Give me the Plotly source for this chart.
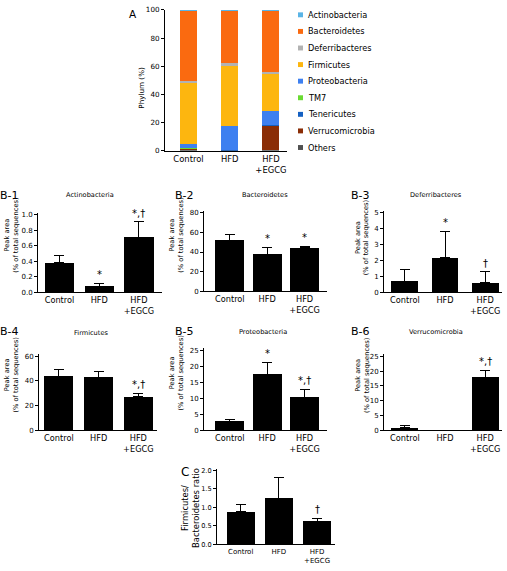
import plotly.graph_objects as go

W, H = 507, 571
FONT = "DejaVu Sans"

# ---------------- data ----------------
groups = ["Control", "HFD", "HFD<br>+EGCG"]

# Panel A: relative abundance (%), stacked bottom -> top
phyla_stack = ["Others", "Verrucomicrobia", "Tenericutes", "TM7", "Proteobacteria",
               "Firmicutes", "Deferribacteres", "Bacteroidetes", "Actinobacteria"]
others_pct = [0.6, 0.1, 0.2]
verruco_pct = [0.9, 0.0, 18.0]
teneri_pct = [0.1, 0.1, 0.1]
tm7_pct = [0.1, 0.0, 0.0]
proteo_pct = [2.9, 17.5, 10.0]
firmi_pct = [44.0, 42.3, 26.8]
deferri_pct = [0.7, 2.1, 0.6]
bactero_pct = [50.3, 37.8, 43.6]
actino_pct = [0.4, 0.1, 0.7]
legend_order = ["Actinobacteria", "Bacteroidetes", "Deferribacteres", "Firmicutes",
                "Proteobacteria", "TM7", "Tenericutes", "Verrucomicrobia", "Others"]

# Panels B and C: mean, SD (upper) and significance marks
actino_mean = [0.38, 0.08, 0.71]
actino_sd = [0.10, 0.04, 0.20]
actino_sig = ["", "*", "*,†"]

bactero_mean = [52.0, 38.0, 44.2]
bactero_sd = [6.0, 7.0, 1.5]
bactero_sig = ["", "*", "*"]

deferri_mean = [0.70, 2.17, 0.60]
deferri_sd = [0.72, 1.67, 0.68]
deferri_sig = ["", "*", "†"]

firmi_mean = [44.0, 43.0, 27.0]
firmi_sd = [5.5, 4.5, 3.0]
firmi_sig = ["", "", "*,†"]

proteo_mean = [2.8, 17.5, 10.4]
proteo_sd = [0.7, 3.8, 2.5]
proteo_sig = ["", "*", "*,†"]

verruco_mean = [0.9, 0.0, 18.0]
verruco_sd = [0.6, 0.0, 2.3]
verruco_sig = ["", "", "*,†"]

fb_ratio_mean = [0.88, 1.25, 0.62]
fb_ratio_sd = [0.20, 0.56, 0.09]
fb_ratio_sig = ["", "", "†"]

# ---------------- styles ----------------
phylum_colors = {
    "Actinobacteria": "#5AB4E6",
    "Bacteroidetes": "#FA6A10",
    "Deferribacteres": "#B2B2B2",
    "Firmicutes": "#FDB60F",
    "Proteobacteria": "#3E80F0",
    "TM7": "#6ADB32",
    "Tenericutes": "#1460C2",
    "Verrucomicrobia": "#8A2D06",
    "Others": "#505050",
}
stack_values = {
    "Others": others_pct, "Verrucomicrobia": verruco_pct, "Tenericutes": teneri_pct,
    "TM7": tm7_pct, "Proteobacteria": proteo_pct, "Firmicutes": firmi_pct,
    "Deferribacteres": deferri_pct, "Bacteroidetes": bactero_pct, "Actinobacteria": actino_pct,
}


def px(x):
    return x / W


def py(y):
    return 1 - y / H


fig = go.Figure()
annotations = []
shapes = []


def axis_common():
    return dict(showline=True, linecolor="black", linewidth=1, showgrid=False,
                zeroline=False, color="black", fixedrange=True)


# ---------------- Panel A ----------------
for ph in phyla_stack:
    fig.add_trace(go.Bar(x=[0, 1, 2], y=stack_values[ph], name=ph,
                         marker=dict(color=phylum_colors[ph], line=dict(width=0)),
                         width=0.41, xaxis="x", yaxis="y", showlegend=False))

layout = dict(
    width=W, height=H, margin=dict(l=0, r=0, t=0, b=0),
    paper_bgcolor="white", plot_bgcolor="white", barmode="stack",
    font=dict(family=FONT, color="black"), showlegend=False,
)
layout["xaxis"] = dict(axis_common(), domain=[px(165), px(287)], range=[-0.57, 2.39],
                       tickmode="array", tickvals=[0, 1, 2], ticktext=groups,
                       ticks="", tickfont=dict(size=8.4), anchor="y")
layout["yaxis"] = dict(axis_common(), domain=[py(149), py(6)], range=[0, 100],
                       dtick=20, ticks="outside", ticklen=3, tickwidth=1, tickcolor="black",
                       tickfont=dict(size=7.2), anchor="x")
annotations.append(dict(text="Phylum (%)", x=px(142), y=py(85), xref="paper", yref="paper",
                        textangle=-90, showarrow=False, font=dict(size=7.2),
                        xanchor="center", yanchor="middle"))
annotations.append(dict(text="A", x=px(133), y=py(10), xref="paper", yref="paper",
                        showarrow=False, font=dict(size=10.5), xanchor="center", yanchor="middle"))
for i, ph in enumerate(legend_order):
    yc = 11 + i * 16.85
    shapes.append(dict(type="rect", xref="paper", yref="paper",
                       x0=px(298), x1=px(303), y0=py(yc + 2.5), y1=py(yc - 2.5),
                       fillcolor=phylum_colors[ph], line=dict(width=0)))
    annotations.append(dict(text=ph, x=px(306), y=py(yc), xref="paper", yref="paper",
                            showarrow=False, font=dict(size=8.2), xanchor="left", yanchor="middle"))

# ---------------- Panels B / C ----------------
panels = [
    dict(label="B-1", title="Actinobacteria", mean=actino_mean, sd=actino_sd, sig=actino_sig,
         ytitle="Peak area<br>(% of total sequences)", ymax=1.0, dtick=0.2, fmt=".1f"),
    dict(label="B-2", title="Bacteroidetes", mean=bactero_mean, sd=bactero_sd, sig=bactero_sig,
         ytitle="Peak area<br>(% of total sequences)", ymax=80, dtick=20, fmt="d"),
    dict(label="B-3", title="Deferribacteres", mean=deferri_mean, sd=deferri_sd, sig=deferri_sig,
         ytitle="Peak area<br>(% of total sequences)", ymax=5, dtick=1, fmt="d"),
    dict(label="B-4", title="Firmicutes", mean=firmi_mean, sd=firmi_sd, sig=firmi_sig,
         ytitle="Peak area<br>(% of total sequences)", ymax=60, dtick=20, fmt="d"),
    dict(label="B-5", title="Proteobacteria", mean=proteo_mean, sd=proteo_sd, sig=proteo_sig,
         ytitle="Peak area<br>(% of total sequences)", ymax=25, dtick=5, fmt="d"),
    dict(label="B-6", title="Verrucomicrobia", mean=verruco_mean, sd=verruco_sd, sig=verruco_sig,
         ytitle="Peak area<br>(% of total sequences)", ymax=25, dtick=5, fmt="d"),
    dict(label="C", title="", mean=fb_ratio_mean, sd=fb_ratio_sd, sig=fb_ratio_sig,
         ytitle="Firmicutes/<br>Bacteroidetes ratio", ymax=2.0, dtick=0.5, fmt=".1f"),
]
# geometry (pixels) and font sizes per panel
B_FONTS = dict(cat=8.2, tick=7, ytitle=6.7, label=11)
C_FONTS = dict(cat=7, tick=6.6, ytitle=8.4, label=12)
geom = [
    dict(x0=38, x1=162, yb=293, yt=214, xr=[-0.54, 2.58], bw=0.74, lab=(9, 195), tit=(90, 194), yt_pos=(11.5, 235), f=B_FONTS),
    dict(x0=204, x1=327, yb=292, yt=212, xr=[-0.69, 2.60], bw=0.77, lab=(184, 195), tit=(265, 194), yt_pos=(176.5, 235), f=B_FONTS),
    dict(x0=384, x1=502, yb=293, yt=212, xr=[-0.52, 2.42], bw=0.67, lab=(360, 195), tit=(436, 194), yt_pos=(362, 237), f=B_FONTS),
    dict(x0=39, x1=157, yb=433, yt=358, xr=[-0.50, 2.47], bw=0.73, lab=(9, 333), tit=(91, 334), yt_pos=(11.5, 377), f=B_FONTS),
    dict(x0=204, x1=327, yb=433, yt=352, xr=[-0.69, 2.60], bw=0.77, lab=(184, 333), tit=(263, 333), yt_pos=(176.5, 375), f=B_FONTS),
    dict(x0=384, x1=502, yb=433, yt=358, xr=[-0.52, 2.42], bw=0.67, lab=(360, 333), tit=(436, 333), yt_pos=(362, 377), f=B_FONTS),
    dict(x0=217, x1=335, yb=549, yt=474, xr=[-0.62, 2.47], bw=0.73, lab=(185, 475), tit=None, yt_pos=(191, 512), f=C_FONTS),
]

for k, (p, g) in enumerate(zip(panels, geom)):
    n = k + 2
    xa, ya = f"x{n}", f"y{n}"
    f = g["f"]
    fig.add_trace(go.Bar(
        x=[0, 1, 2], y=p["mean"], width=g["bw"], xaxis=xa, yaxis=ya,
        marker=dict(color="black", line=dict(width=0)), showlegend=False,
        error_y=dict(type="data", array=p["sd"], arrayminus=[0, 0, 0], symmetric=False,
                     color="black", thickness=1, width=5),
    ))
    span = g["yb"] - g["yt"]
    ytop = p["ymax"] * (1 + 2.0 / span)
    layout[f"xaxis{n}"] = dict(axis_common(), domain=[px(g["x0"]), px(g["x1"])], range=g["xr"],
                               tickmode="array", tickvals=[0, 1, 2], ticktext=groups,
                               ticks="", tickfont=dict(size=f["cat"]), anchor=ya)
    layout[f"yaxis{n}"] = dict(axis_common(), domain=[py(g["yb"]), py(g["yt"] - 2)],
                               range=[0, ytop], tickmode="linear", tick0=0, dtick=p["dtick"],
                               tickformat=p["fmt"], ticks="outside", ticklen=3, tickwidth=1,
                               tickcolor="black", tickfont=dict(size=f["tick"]), anchor=xa)
    for i in range(3):
        if p["sig"][i]:
            annotations.append(dict(text=p["sig"][i], x=i, y=p["mean"][i] + p["sd"][i],
                                    xref=xa, yref=ya, showarrow=False, yanchor="bottom",
                                    yshift=1, font=dict(size=10)))
    annotations.append(dict(text=p["label"], x=px(g["lab"][0]), y=py(g["lab"][1]),
                            xref="paper", yref="paper", showarrow=False,
                            font=dict(size=f["label"]), xanchor="center", yanchor="middle"))
    if g["tit"]:
        annotations.append(dict(text=p["title"], x=px(g["tit"][0]), y=py(g["tit"][1]),
                                xref="paper", yref="paper", showarrow=False,
                                font=dict(size=6.6), xanchor="center", yanchor="middle"))
    annotations.append(dict(text=p["ytitle"], x=px(g["yt_pos"][0]), y=py(g["yt_pos"][1]),
                            xref="paper", yref="paper", showarrow=False, textangle=-90,
                            font=dict(size=f["ytitle"]), xanchor="center", yanchor="middle"))

layout["annotations"] = annotations
layout["shapes"] = shapes
fig.update_layout(**layout)
fig.write_html("out.html", config={"displayModeBar": False},
               post_script="document.body.style.margin='0';document.body.style.overflow='hidden';")
